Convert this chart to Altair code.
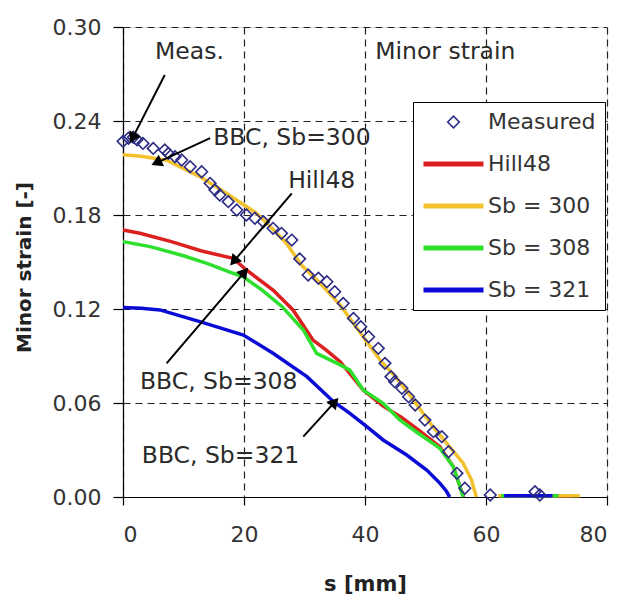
import altair as alt
import pandas as pd
import numpy as np

# ---------------- data ----------------
series_names = ["Measured", "Hill48", "Sb = 300", "Sb = 308", "Sb = 321"]
series_colors = ["#2b2b86", "#dc1f1f", "#f2c12e", "#2ee02e", "#0b0bd6"]

meas_s = [0.0, 0.9, 1.7, 2.3, 3.3, 5.0, 6.9, 7.5, 8.6, 9.7, 11.1, 13.0, 14.4, 15.2, 16.0,
          17.4, 18.8, 20.4, 21.8, 23.2, 24.8, 26.2, 27.9, 29.2, 30.6, 32.3, 33.7, 35.0,
          36.4, 38.1, 39.3, 40.6, 42.2, 43.3, 44.3, 44.9, 46.1, 47.2, 48.3, 49.9, 51.3,
          52.7, 53.8, 55.2, 56.5, 60.7, 68.1, 68.9]
meas_v = [0.227, 0.229, 0.2296, 0.228, 0.2257, 0.2225, 0.2215, 0.2193, 0.2172, 0.2151,
          0.2108, 0.2076, 0.2002, 0.196, 0.1928, 0.1885, 0.1832, 0.18, 0.1779, 0.1757,
          0.1715, 0.1683, 0.164, 0.152, 0.1417, 0.1396, 0.1374, 0.131, 0.1236, 0.114,
          0.1087, 0.1023, 0.0949, 0.0853, 0.0768, 0.0736, 0.0694, 0.064, 0.0587, 0.0491,
          0.0417, 0.0385, 0.0289, 0.0151, 0.0056, 0.0013, 0.0034, 0.0013]

hill_s = [0, 2.8, 8, 13, 18.2, 20.4, 24.8, 28.1, 31.4, 33.5, 35.9, 39.7, 43, 46, 49.1, 52.4, 54.6, 55.7, 56.3]
hill_v = [0.1704, 0.1683, 0.163, 0.157, 0.1523, 0.1449, 0.1321, 0.1194, 0.1002, 0.094,
          0.0864, 0.0683, 0.058, 0.051, 0.042, 0.032, 0.0193, 0.0066, 0.0]

sb300_s = [0, 3, 7.2, 12.7, 17, 22.1, 24, 27, 29.5, 32.6, 36, 39, 42.5, 45, 48, 51, 54, 56.2, 57.6, 58.4]
sb300_v = [0.2185, 0.2175, 0.215, 0.2045, 0.194, 0.181, 0.174, 0.162, 0.148, 0.1364, 0.122,
           0.106, 0.0874, 0.077, 0.062, 0.046, 0.032, 0.0217, 0.011, 0.0]

sb308_s = [0, 4.5, 10, 14, 18.2, 19.9, 23, 26.3, 29.8, 32.0, 35.9, 37.5, 39.7, 43.0, 45.8,
           48.5, 52.4, 54.6, 55.7, 56.2]
sb308_v = [0.163, 0.1598, 0.154, 0.149, 0.1428, 0.1406, 0.132, 0.1215, 0.1066, 0.0917,
           0.0843, 0.081, 0.0683, 0.0598, 0.049, 0.0415, 0.031, 0.0193, 0.0066, 0.0]

sb321_s = [0, 3, 6.1, 12.7, 19.9, 24.8, 30.4, 34.8, 37.5, 40.3, 43.0, 46.9, 50.2, 52.4, 53.4, 54.0]
sb321_v = [0.121, 0.1205, 0.1194, 0.1119, 0.1034, 0.0917, 0.0768, 0.0608, 0.0534, 0.0449,
           0.0364, 0.0268, 0.0172, 0.0087, 0.004, 0.0]

# short flat tails of the simulated curves beyond the edge
tail_start = [64.0, 62.0, 62.5, 63.0]
tail_end = [74.0, 75.5, 72.0, 71.0]
tail_v = [0.0008, 0.0008, 0.0008, 0.0008]

x_ticks = [0, 20, 40, 60, 80]
y_ticks = [0.0, 0.06, 0.12, 0.18, 0.24, 0.30]

ann_labels = ["Meas.", "BBC, Sb=300", "Hill48", "BBC, Sb=308", "BBC, Sb=321", "Minor strain"]
ann_s = [5.3, 14.9, 27.3, 2.8, 3.1, 41.7]
ann_v = [0.2796, 0.2247, 0.197, 0.0687, 0.0215, 0.2794]

arrow_s0 = [6.9, 14.4, 27.9, 7.2, 29.8]
arrow_v0 = [0.2694, 0.2291, 0.1938, 0.0853, 0.0385]
arrow_s1 = [1.7, 5.8, 18.5, 19.9, 34.8]
arrow_v1 = [0.2300, 0.2138, 0.1513, 0.1428, 0.0598]

# ---------------- frames ----------------
W, H = 484, 470
XMAX, YMAX = 80, 0.30

meas_df = pd.DataFrame({"s": meas_s, "v": meas_v, "series": "Measured"})

rows = []
for name, ss, vv in [("Hill48", hill_s, hill_v), ("Sb = 300", sb300_s, sb300_v),
                     ("Sb = 308", sb308_s, sb308_v), ("Sb = 321", sb321_s, sb321_v)]:
    for a, b in zip(ss, vv):
        rows.append({"s": a, "v": b, "series": name, "seg": name + "_main"})
for name, a0, a1, tv in zip(["Hill48", "Sb = 300", "Sb = 308", "Sb = 321"], tail_start, tail_end, tail_v):
    rows.append({"s": a0, "v": tv, "series": name, "seg": name + "_tail"})
    rows.append({"s": a1, "v": tv, "series": name, "seg": name + "_tail"})
lines_df = pd.DataFrame(rows)

ann_df = pd.DataFrame({"label": ann_labels, "s": ann_s, "v": ann_v})

arr_df = pd.DataFrame({"s0": arrow_s0, "v0": arrow_v0, "s1": arrow_s1, "v1": arrow_v1})
dx = (arr_df["s1"] - arr_df["s0"]) * W / XMAX
dy = -(arr_df["v1"] - arr_df["v0"]) * H / YMAX
arr_df["ang"] = (np.degrees(np.arctan2(dx, -dy)) + 360) % 360

xscale = alt.Scale(domain=[0, XMAX], nice=False, zero=False)
yscale = alt.Scale(domain=[0, YMAX], nice=False, zero=False)

diamond_path = "M-0.58,0L0,-0.58L0.58,0L0,0.58Z"
line_path = "M-3,-0.18H3M-3,-0.09H3M-3,0H3M-3,0.09H3M-3,0.18H3"

color_scale = alt.Scale(domain=series_names, range=series_colors)
shape_scale = alt.Scale(domain=series_names,
                        range=[diamond_path, line_path, line_path, line_path, line_path])

legend = alt.Legend(orient="none", legendX=290, legendY=75,
                    title=None, padding=9, rowPadding=20,
                    symbolSize=400, symbolStrokeWidth=1.6, symbolOffset=20.5,
                    symbolFillColor="transparent",
                    labelFont="DejaVu Sans", labelFontSize=22,
                    labelColor="#333333", labelOffset=23.5,
                    strokeColor="black", fillColor="white",
                    labelLimit=300)

x_axis = alt.Axis(values=x_ticks, format="d", title="s [mm]", grid=True,
                  gridDash=[7, 5], gridColor="#222222", gridWidth=1.2,
                  tickSize=8, tickColor="black", tickWidth=1.2,
                  domainColor="black", domainWidth=1.2,
                  labelPadding=19, labelFont="DejaVu Sans", labelFontSize=22,
                  labelColor="#333333",
                  titleFont="DejaVu Sans", titleFontSize=21, titleFontWeight="bold",
                  titleColor="#222222", titleY=93, titleBaseline="alphabetic")
y_axis = alt.Axis(values=y_ticks, format=".2f", title="Minor strain [-]", grid=True,
                  gridDash=[7, 5], gridColor="#222222", gridWidth=1.2,
                  tickSize=10, tickColor="black", tickWidth=1.2,
                  domainColor="black", domainWidth=1.2,
                  labelPadding=12, labelFont="DejaVu Sans", labelFontSize=22,
                  labelColor="#333333",
                  titleFont="DejaVu Sans", titleFontSize=20, titleFontWeight="bold",
                  titleColor="#222222", titleX=-99, titleY=240, titleAngle=270,
                  titleAlign="center", titleBaseline="middle")

lines = alt.Chart(lines_df).mark_line(strokeWidth=3.5).encode(
    x=alt.X("s:Q", scale=xscale, axis=x_axis),
    y=alt.Y("v:Q", scale=yscale, axis=y_axis),
    color=alt.Color("series:N", scale=color_scale, title=None, legend=legend),
    detail="seg:N",
)

points = alt.Chart(meas_df).mark_point(filled=False, strokeWidth=1.6, size=400, opacity=1).encode(
    x=alt.X("s:Q", scale=xscale),
    y=alt.Y("v:Q", scale=yscale),
    color=alt.Color("series:N", scale=color_scale, title=None, legend=legend),
    shape=alt.Shape("series:N", scale=shape_scale, title=None, legend=legend),
)

arrow_lines = alt.Chart(arr_df).mark_rule(color="black", strokeWidth=2).encode(
    x=alt.X("s0:Q", scale=xscale), y=alt.Y("v0:Q", scale=yscale),
    x2="s1:Q", y2="v1:Q",
)
arrow_heads = alt.Chart(arr_df).mark_point(shape="triangle", filled=True, color="black",
                                           size=160, opacity=1).encode(
    x=alt.X("s1:Q", scale=xscale), y=alt.Y("v1:Q", scale=yscale),
    angle=alt.Angle("ang:Q", scale=None),
)

texts = alt.Chart(ann_df).mark_text(align="left", baseline="alphabetic", font="DejaVu Sans",
                                    fontSize=23.5, color="#2a2a2a").encode(
    x=alt.X("s:Q", scale=xscale), y=alt.Y("v:Q", scale=yscale), text="label:N",
)

chart = alt.layer(lines, points, arrow_lines, arrow_heads, texts).properties(
    width=W, height=H,
    autosize=alt.AutoSizeParams(type="none"),
    padding={"left": 123, "top": 27, "right": 15, "bottom": 98},
).configure_view(stroke="black", strokeWidth=1.2).configure(background="white")

chart.save("out.html", embed_options={"renderer": "svg", "actions": False})
